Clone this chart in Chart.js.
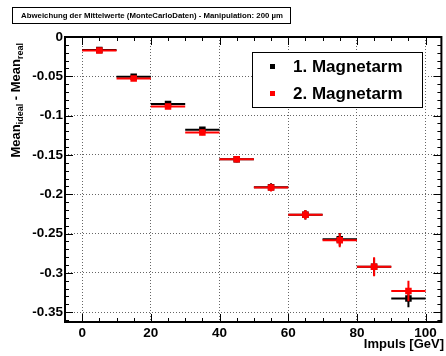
<!DOCTYPE html>
<html><head><meta charset="utf-8">
<script src="https://cdn.jsdelivr.net/npm/chart.js@4/dist/chart.umd.min.js"></script>
<style>html,body{margin:0;padding:0;background:#fff;} #wrap{position:relative;width:446px;height:356px;}</style>
</head><body><div id="wrap"><canvas id="c" width="446" height="356"></canvas></div>
<script>
// ---- data ----
const impuls = [5, 15, 25, 35, 45, 55, 65, 75, 85, 95];
const impulsHalfWidth = [5, 5, 5, 5, 5, 5, 5, 5, 5, 5];
const arm1Values = [-0.0165, -0.0505, -0.0852, -0.1180, -0.1554, -0.1910, -0.2260, -0.2574, -0.2923, -0.3327];
const arm1Errors = [0.002, 0.0025, 0.003, 0.0035, 0.004, 0.005, 0.006, 0.008, 0.011, 0.011];
const arm2Values = [-0.0172, -0.0529, -0.0883, -0.1214, -0.1554, -0.1915, -0.2260, -0.2585, -0.2923, -0.3230];
const arm2Errors = [0.002, 0.0025, 0.003, 0.0035, 0.004, 0.005, 0.006, 0.009, 0.012, 0.013];
const seriesNames = ['1. Magnetarm', '2. Magnetarm'];
const seriesColors = ['#000000', '#ff0000'];
const xTickValues = [0, 20, 40, 60, 80, 100];
const yTickValues = [0, -0.05, -0.1, -0.15, -0.2, -0.25, -0.3, -0.35];
const yTickLabels = ['0', '-0.05', '-0.1', '-0.15', '-0.2', '-0.25', '-0.3', '-0.35'];
const titleText = 'Abweichung der Mittelwerte (MonteCarloDaten) - Manipulation: 200 \u00b5m';
const xTitle = 'Impuls [GeV]';

const FONT = "'Liberation Sans', Arial, Helvetica, sans-serif";

const errorBars = {
  id: 'errorBars',
  beforeDatasetDraw(chart, args) {
    const ds = chart.data.datasets[args.index];
    const xs = chart.scales.x, ys = chart.scales.y, ctx = chart.ctx;
    ctx.save();
    ctx.strokeStyle = ds.backgroundColor;
    ctx.lineWidth = 2;
    ctx.beginPath();
    ds.data.forEach((p, i) => {
      const px = xs.getPixelForValue(p.x), py = ys.getPixelForValue(p.y);
      ctx.moveTo(xs.getPixelForValue(p.x - ds.xErr[i]), py);
      ctx.lineTo(xs.getPixelForValue(p.x + ds.xErr[i]), py);
      ctx.moveTo(px, ys.getPixelForValue(p.y - ds.yErr[i]));
      ctx.lineTo(px, ys.getPixelForValue(p.y + ds.yErr[i]));
    });
    ctx.stroke();
    ctx.restore();
  }
};

const decorations = {
  id: 'decorations',
  afterDraw(chart) {
    const ctx = chart.ctx, a = chart.chartArea, xs = chart.scales.x, ys = chart.scales.y;
    ctx.save();
    // frame
    ctx.strokeStyle = '#000';
    ctx.lineWidth = 2;
    ctx.strokeRect(a.left, a.top, a.right - a.left, a.bottom - a.top);
    // ticks inside frame
    ctx.lineWidth = 1;
    ctx.beginPath();
    for (let v = -5; v <= 104.6; v += 5) {
      const px = Math.round(xs.getPixelForValue(v)) + 0.5;
      const major = Math.abs(v % 20) < 1e-6;
      const L = major ? 8 : 4;
      ctx.moveTo(px, a.bottom); ctx.lineTo(px, a.bottom - L);
      ctx.moveTo(px, a.top); ctx.lineTo(px, a.top + L);
    }
    for (let k = 0; k <= 36; k++) {
      const v = -k * 0.01;
      const py = Math.round(ys.getPixelForValue(v)) + 0.5;
      const L = (k % 5 === 0) ? 8 : 4;
      ctx.moveTo(a.left, py); ctx.lineTo(a.left + L, py);
      ctx.moveTo(a.right, py); ctx.lineTo(a.right - L, py);
    }
    ctx.stroke();

    // title box
    ctx.fillStyle = '#fff';
    ctx.fillRect(12.5, 7.5, 278, 16);
    ctx.strokeStyle = '#000';
    ctx.lineWidth = 1;
    ctx.strokeRect(12.5, 7.5, 278, 16);
    ctx.fillStyle = '#000';
    ctx.font = 'bold 7.8px ' + FONT;
    ctx.textAlign = 'center';
    ctx.textBaseline = 'middle';
    ctx.fillText(titleText, 152, 16);

    // legend
    ctx.fillStyle = '#fff';
    ctx.fillRect(252.5, 52.5, 170, 55);
    ctx.strokeRect(252.5, 52.5, 170, 55);
    ctx.font = 'bold 17px ' + FONT;
    ctx.textAlign = 'left';
    chart.data.datasets.slice().sort((p, q) => p.legendIndex - q.legendIndex).forEach((ds, i) => {
      const cy = 66 + i * 27;
      ctx.fillStyle = ds.backgroundColor;
      ctx.fillRect(270, cy - 2, 5, 5);
      ctx.fillStyle = '#000';
      ctx.fillText(ds.label, 293, cy + 1);
    });

    // x title
    ctx.font = 'bold 13px ' + FONT;
    ctx.textAlign = 'right';
    ctx.textBaseline = 'alphabetic';
    ctx.fillText(xTitle, 444, 348);

    // y title (rotated, with subscripts)
    ctx.translate(20, 43);
    ctx.rotate(-Math.PI / 2);
    const parts = [['Mean', 13, 0], ['ideal', 9, 3], [' - Mean', 13, 0], ['real', 9, 3]];
    let w = 0;
    parts.forEach(p => { ctx.font = 'bold ' + p[1] + 'px ' + FONT; w += ctx.measureText(p[0]).width; });
    let x = -w;
    ctx.textAlign = 'left';
    parts.forEach(p => {
      ctx.font = 'bold ' + p[1] + 'px ' + FONT;
      ctx.fillText(p[0], x, p[2]);
      x += ctx.measureText(p[0]).width;
    });
    ctx.restore();
  }
};

const tickFont = { family: FONT, size: 13.5, weight: 'bold' };

new Chart(document.getElementById('c'), {
  type: 'scatter',
  data: {
    datasets: [
      {
        label: seriesNames[0], legendIndex: 0, order: 2,
        data: impuls.map((x, i) => ({ x, y: arm1Values[i] })),
        xErr: impulsHalfWidth, yErr: arm1Errors,
        backgroundColor: seriesColors[0], borderColor: seriesColors[0],
        pointStyle: 'rect', pointRadius: 4.6, borderWidth: 0
      },
      {
        label: seriesNames[1], legendIndex: 1, order: 1,
        data: impuls.map((x, i) => ({ x, y: arm2Values[i] })),
        xErr: impulsHalfWidth, yErr: arm2Errors,
        backgroundColor: seriesColors[1], borderColor: seriesColors[1],
        pointStyle: 'rect', pointRadius: 4.6, borderWidth: 0
      }
    ]
  },
  options: {
    responsive: false, animation: false, devicePixelRatio: 1,
    layout: { padding: { top: 37, right: 1, left: 0, bottom: 0 } },
    plugins: { legend: { display: false }, tooltip: { enabled: false }, title: { display: false } },
    scales: {
      x: {
        type: 'linear', min: -5, max: 104.6,
        afterBuildTicks: s => { s.ticks = xTickValues.map(v => ({ value: v })); },
        afterFit: s => { s.height = 34; },
        grid: { color: '#666', lineWidth: 1, drawTicks: false },
        border: { display: false, dash: [1, 2] },
        ticks: { font: tickFont, color: '#000', padding: 3, maxRotation: 0, autoSkip: false }
      },
      y: {
        type: 'linear', min: -0.3625, max: 0,
        afterBuildTicks: s => { s.ticks = yTickValues.map(v => ({ value: v })); },
        afterFit: s => { s.width = 65; },
        grid: { color: '#666', lineWidth: 1, drawTicks: false },
        border: { display: false, dash: [1, 2] },
        ticks: { font: tickFont, color: '#000', padding: 2, autoSkip: false,
          callback: (v, i) => yTickLabels[i] }
      }
    }
  },
  plugins: [errorBars, decorations]
});
</script></body></html>
